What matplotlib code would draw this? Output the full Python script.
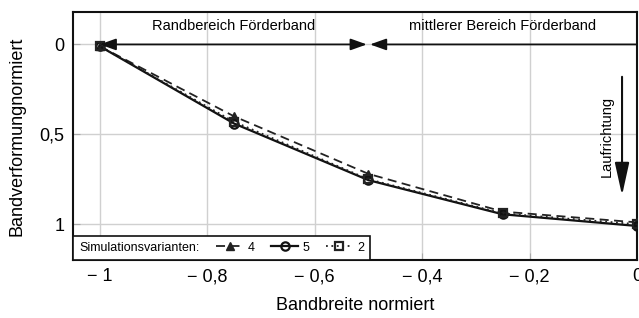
import numpy as np
import matplotlib.pyplot as plt
from matplotlib.lines import Line2D

plt.rcParams['font.family'] = ['Liberation Sans', 'DejaVu Sans']

# Bandbreite normiert (x) und normierte Bandverformung (y)
breite = [-1.0, -0.75, -0.5, -0.25, 0.0]
var4 = [0.01, 0.40, 0.72, 0.93, 0.99]
var5 = [0.01, 0.44, 0.755, 0.945, 1.01]
var2 = [0.01, 0.43, 0.75, 0.94, 1.00]

xticks = [-1.0, -0.8, -0.6, -0.4, -0.2, 0.0]
xticklabels = ['\u2212 1', '\u2212 0,8', '\u2212 0,6', '\u2212 0,4', '\u2212 0,2', '0']
yticks = [0, 0.5, 1]
yticklabels = ['0', '0,5', '1']

fig = plt.figure(figsize=(6.39, 3.18), dpi=100)
ax = fig.add_axes([0.114, 0.182, 0.883, 0.780])

l4, = ax.plot(breite, var4, color='#222222', ls=(0, (5, 3)), lw=1.3,
              marker='^', ms=6, mfc='#222222', mec='#222222', zorder=4)
l5, = ax.plot(breite, var5, color='#111111', ls='-', lw=1.6,
              marker='o', ms=6, mfc='none', mec='#111111', mew=1.6, zorder=4)
l2, = ax.plot(breite, var2, color='#222222', ls=(0, (1, 2)), lw=1.3,
              marker='s', ms=6, mfc='none', mec='#222222', mew=1.6, zorder=4)

ax.set_xlim(-1.05, 0.0)
ax.set_ylim(1.2, -0.18)
ax.set_xticks(xticks)
ax.set_xticklabels(xticklabels)
ax.set_yticks(yticks)
ax.set_yticklabels(yticklabels)
ax.grid(True, color='#d0d0d0', lw=1)
ax.set_axisbelow(True)
ax.tick_params(direction='in', length=5, color='#aaaaaa', labelsize=13, pad=6)
for s in ax.spines.values():
    s.set_linewidth(1.5)
    s.set_color('#111111')

ax.set_xlabel('Bandbreite normiert', fontsize=13, labelpad=8)
ax.set_ylabel('Bandverformungnormiert', fontsize=13, labelpad=10)

# Bereichspfeile
arr = dict(arrowstyle='<|-|>,head_length=0.7,head_width=0.25', color='#111111',
           lw=1.3, mutation_scale=14, shrinkA=0, shrinkB=0)
ax.annotate('', xy=(-1.0, 0.0), xytext=(-0.503, 0.0), arrowprops=arr, zorder=5)
ax.annotate('', xy=(-0.497, 0.0), xytext=(0.0, 0.0),
            arrowprops=dict(arrowstyle='-|>,head_length=0.7,head_width=0.25', color='#111111',
                            lw=1.3, mutation_scale=14, shrinkA=0, shrinkB=0), zorder=5)
ax.text(-0.75, -0.065, 'Randbereich F\u00f6rderband', ha='center', va='bottom', fontsize=10.5)
ax.text(-0.25, -0.065, 'mittlerer Bereich F\u00f6rderband', ha='center', va='bottom', fontsize=10.5)

# Laufrichtung
ax.annotate('', xy=(-0.028, 0.84), xytext=(-0.028, 0.18),
            arrowprops=dict(arrowstyle='-|>,head_length=1.0,head_width=0.22', color='#111111',
                            lw=1.5, mutation_scale=20, shrinkA=0, shrinkB=0))
ax.text(-0.056, 0.51, 'Laufrichtung', rotation=90, ha='center', va='center', fontsize=10.5)

# Legende mit Titel links
leg = ax.legend([l4, l5, l2], ['4', '5', '2'], ncol=3, loc='lower left',
                title='Simulationsvarianten:', fontsize=9, title_fontsize=9,
                borderaxespad=0, fancybox=False, edgecolor='#111111',
                framealpha=1, handlelength=2.2, handletextpad=0.3,
                columnspacing=0.3, borderpad=0.5)
leg.get_frame().set_linewidth(1.2)
vbox = leg._legend_box
title_box = vbox._children[0]
hbox = vbox._children[1]
vbox._children.remove(title_box)
hbox._children.insert(0, title_box)
hbox.sep = 12

fig.savefig('out.png', dpi=100)
